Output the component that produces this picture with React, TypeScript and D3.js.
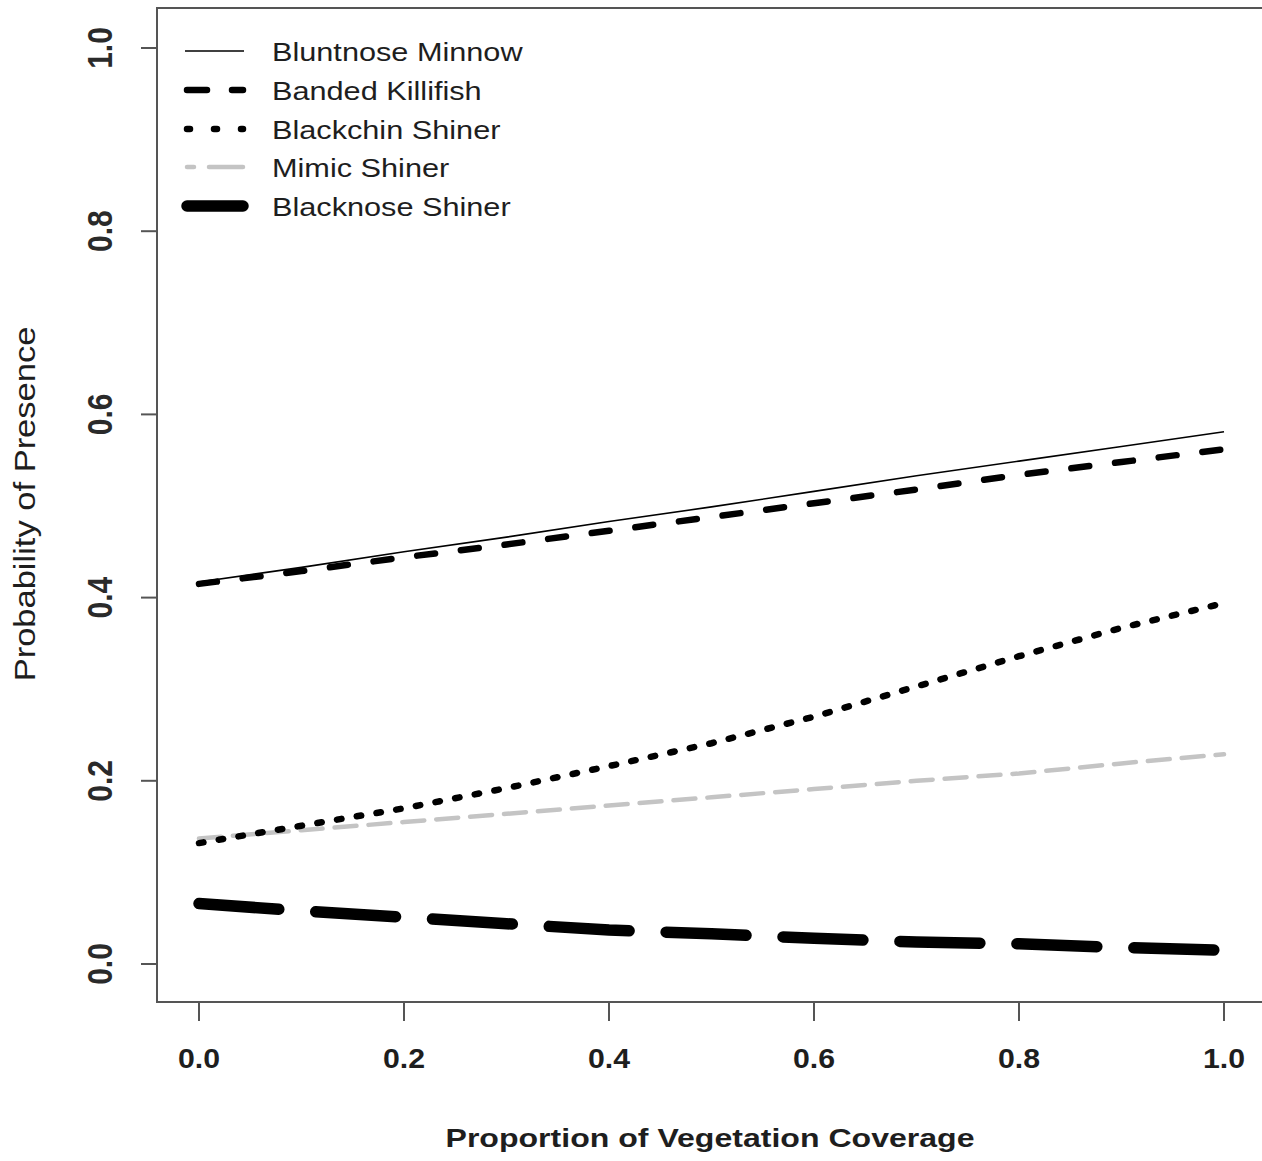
import React from "react";
import * as d3 from "d3";

const coverage = [0, 0.1, 0.2, 0.3, 0.4, 0.5, 0.6, 0.7, 0.8, 0.9, 1.0];
const bluntnoseMinnow = [0.417, 0.433, 0.45, 0.466, 0.483, 0.499, 0.516, 0.533, 0.549, 0.565, 0.581];
const bandedKillifish = [0.415, 0.429, 0.444, 0.458, 0.473, 0.488, 0.503, 0.518, 0.534, 0.548, 0.562];
const blackchinShiner = [0.132, 0.151, 0.17, 0.192, 0.216, 0.241, 0.27, 0.303, 0.336, 0.367, 0.394];
const mimicShiner = [0.137, 0.146, 0.155, 0.164, 0.173, 0.182, 0.191, 0.2, 0.208, 0.219, 0.229];
const blacknoseShiner = [0.066, 0.058, 0.051, 0.044, 0.037, 0.033, 0.028, 0.024, 0.022, 0.018, 0.015];
const seriesNames = ["Bluntnose Minnow", "Banded Killifish", "Blackchin Shiner", "Mimic Shiner", "Blacknose Shiner"];
const xTicks = [0, 0.2, 0.4, 0.6, 0.8, 1.0];
const yTicks = [0, 0.2, 0.4, 0.6, 0.8, 1.0];

const styles = [
  { stroke: "#000", width: 1.6, dash: "", cap: "butt" },
  { stroke: "#000", width: 6.5, dash: "18 26", cap: "round" },
  { stroke: "#000", width: 6.5, dash: "4.5 15.5", cap: "round" },
  { stroke: "#c4c4c4", width: 4.5, dash: "22 12", cap: "round" },
  { stroke: "#000", width: 11.5, dash: "80 37", cap: "round" },
];
const legendDash = [
  { dash: "", offset: 0 },
  { dash: "20 25", offset: 0 },
  { dash: "3 24", offset: 0 },
  { dash: "7 15 40 0", offset: 0 },
  { dash: "", offset: 0 },
];

export default function App() {
  const W = 1262, H = 1161;
  const x = d3.scaleLinear().domain([0, 1]).range([199, 1224]);
  const y = d3.scaleLinear().domain([0, 1]).range([964, 48]);
  const allSeries = [bluntnoseMinnow, bandedKillifish, blackchinShiner, mimicShiner, blacknoseShiner];
  const line = d3.line<number>().x((_, i) => x(coverage[i])).y((d) => y(d));
  const font = "'Liberation Sans', Arial, sans-serif";
  const axisColor = "#555";
  const textColor = "#1e1e1e";
  const legendY = [51, 90, 129, 167, 206];
  const drawOrder = [4, 3, 2, 1, 0];
  return (
    <svg width={W} height={H} style={{ position: "absolute", left: 0, top: 0, background: "#fff" }} fontFamily={font}>
      <rect x={0} y={0} width={W} height={H} fill="#fff" />
      {/* box */}
      <rect x={157} y={8} width={1120} height={994} fill="none" stroke={axisColor} strokeWidth={2} />
      {/* y ticks */}
      {yTicks.map((t) => (
        <g key={"y" + t}>
          <line x1={141} x2={157} y1={y(t)} y2={y(t)} stroke={axisColor} strokeWidth={2} />
          <text
            transform={`translate(112,${y(t)}) rotate(-90) scale(1,1.16)`}
            textAnchor="middle"
            fontSize={30}
            fontWeight="bold"
            fill="#2a2a2a"
          >
            {t.toFixed(1)}
          </text>
        </g>
      ))}
      {/* x ticks */}
      {xTicks.map((t) => (
        <g key={"x" + t}>
          <line x1={x(t)} x2={x(t)} y1={1002} y2={1021} stroke={axisColor} strokeWidth={2} />
          <text
            transform={`translate(${x(t)},1068) scale(1.08,1)`}
            textAnchor="middle"
            fontSize={28}
            fontWeight="bold"
            fill={textColor}
          >
            {t.toFixed(1)}
          </text>
        </g>
      ))}
      <text
        transform="translate(710,1147) scale(1.21,1)"
        textAnchor="middle"
        fontSize={26.5}
        fontWeight="bold"
        fill={textColor}
      >
        Proportion of Vegetation Coverage
      </text>
      <text
        transform="translate(35,504) rotate(-90) scale(1.19,1)"
        textAnchor="middle"
        fontSize={29}
        fill={textColor}
      >
        Probability of Presence
      </text>
      {/* series */}
      {drawOrder.map((i) => (
        <path
          key={"s" + i}
          d={line(allSeries[i]) || ""}
          fill="none"
          stroke={styles[i].stroke}
          strokeWidth={styles[i].width}
          strokeDasharray={styles[i].dash}
          strokeLinecap={styles[i].cap as any}
          strokeLinejoin="round"
        />
      ))}
      {/* legend */}
      {seriesNames.map((name, i) => (
        <g key={"l" + i}>
          <line
            x1={i === 0 ? 185 : 187}
            x2={i === 0 ? 244 : 243}
            y1={legendY[i]}
            y2={legendY[i]}
            stroke={styles[i].stroke}
            strokeWidth={styles[i].width}
            strokeDasharray={legendDash[i].dash}
            strokeDashoffset={legendDash[i].offset}
            strokeLinecap={styles[i].cap as any}
          />
          <text
            transform={`translate(272,${legendY[i] + 10}) scale(1.18,1)`}
            fontSize={26}
            fill={textColor}
          >
            {name}
          </text>
        </g>
      ))}
    </svg>
  );
}
